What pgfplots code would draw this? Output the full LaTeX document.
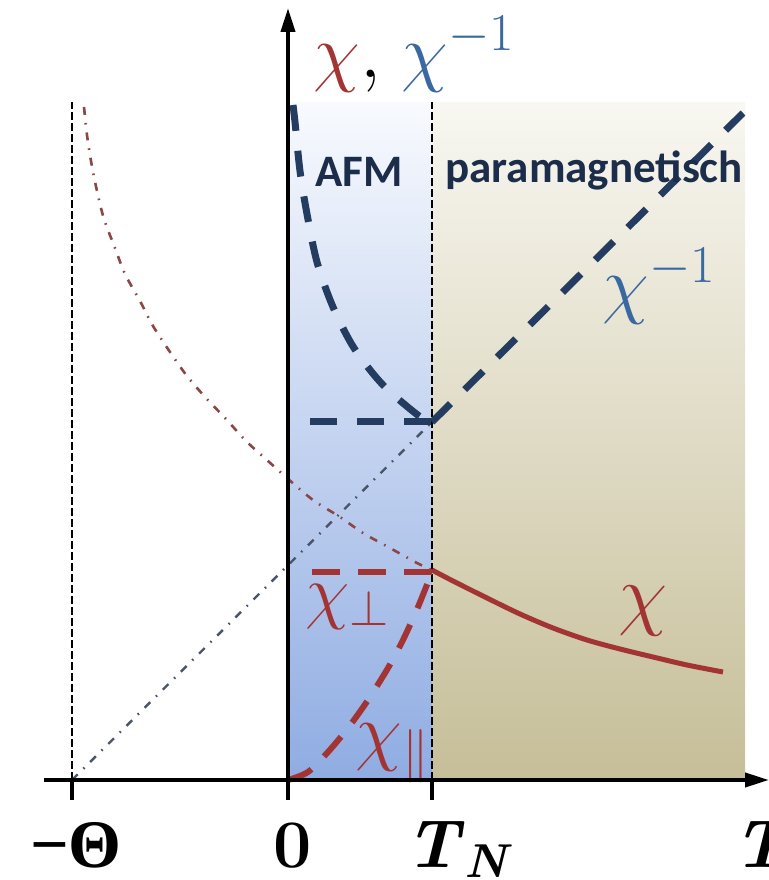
\RequirePackage{fix-cm}
\documentclass[border=0pt]{standalone}
\usepackage{fontspec}
\usepackage{amsmath}
\usepackage{pgfplots}
\pgfplotsset{compat=1.18}
\usetikzlibrary{arrows.meta}
\newfontfamily\calibri{Carlito}
\newfontfamily\lserif{Liberation Serif}
\definecolor{navy}{RGB}{35,60,95}
\definecolor{chired}{RGB}{163,52,52}
\definecolor{dotred}{RGB}{140,70,70}
\definecolor{dotgray}{RGB}{75,85,105}
\definecolor{labblue}{RGB}{58,104,160}
\definecolor{txtnavy}{RGB}{27,45,74}
\definecolor{bluetop}{RGB}{248,250,254}
\definecolor{bluebot}{RGB}{143,172,226}
\definecolor{tantop}{RGB}{248,247,241}
\definecolor{tanbot}{RGB}{198,190,152}
\begin{document}
\begin{tikzpicture}
\useasboundingbox (0,0) rectangle (384.5pt,440pt);
\begin{axis}[
  at={(22pt,50pt)}, anchor=south west,
  x=0.5pt, y=0.5pt,
  xmin=-244, xmax=481, ymin=0, ymax=772,
  enlargelimits=false,
  axis lines=middle, axis on top, clip=false,
  axis line style={line width=2pt},
  x axis line style={-{Triangle[length=12pt,width=7pt]}},
  y axis line style={-{Triangle[length=12pt,width=7pt]}},
  xtick={-216,0,144}, xticklabels={,,}, ytick=\empty,
  hide obscured x ticks=false,
  tick align=outside, major tick length=10pt,
  xtick style={line width=2pt, black},
]
% backgrounds
\addplot[draw=none, top color=bluetop, bottom color=bluebot] coordinates {(0,0) (0,677) (144,677) (144,0)};
\addplot[draw=none, top color=tantop, bottom color=tanbot] coordinates {(144,0) (144,677) (457,677) (457,0)};
% vertical dashed guides
\addplot[black, line width=1.2pt, dash pattern=on 4pt off 1.5pt] coordinates {(-216,0) (-216,678)};
\addplot[black, line width=1.2pt, dash pattern=on 4pt off 1.5pt] coordinates {(144,0) (144,678)};
% Curie-Weiss extrapolation (dash-dot)
\addplot[dotgray, line width=1.2pt, dash pattern=on 4pt off 4pt on 0.8pt off 4pt] coordinates {(-216,0) (144,358)};
\addplot[dotred, line width=1.3pt, smooth, dash pattern=on 4pt off 4pt on 0.8pt off 4pt] coordinates {
(-204,673) (-201,645) (-197,619) (-191,589) (-184,561) (-173,532) (-163,506) (-148,479) (-135,454) (-118,428) (-101,404) (-82,382) (-62,361) (-42,339) (-20,319) (-1,302) (25,280) (52,263) (75,247) (102,232) (129,217) (144,210)};
% chi paramagnetic (solid)
\addplot[chired, line width=2.5pt, smooth] coordinates {
(144,210) (165,199) (199,182) (232,166) (265,152) (299,140) (332,131) (365,123) (399,115) (435,108)};
% chi perp and chi parallel
\addplot[chired, line width=3pt, dash pattern=on 14pt off 9pt] coordinates {(24,208) (144,208)};
\addplot[chired, line width=3pt, smooth, dash pattern=on 13pt off 9pt] coordinates {
(0,0) (20,8) (40,28) (60,52) (80,80) (100,112) (115,140) (130,173) (144,208)};
% chi inverse
\addplot[navy, line width=3.5pt, smooth, dash pattern=on 13pt off 10pt] coordinates {
(5,675) (7,658) (12,609) (19,566) (29,518) (45,473) (66,432) (95,395) (131,364) (144,358)};
\addplot[navy, line width=3.5pt, dash pattern=on 13.5pt off 10pt] coordinates {(22,358) (144,358)};
\addplot[navy, line width=3.5pt, dash pattern=on 13pt off 10pt] coordinates {(144,358) (455,667)};
% labels
\node[anchor=base west, inner sep=0pt] at (axis cs:25,702) {\fontsize{38}{40}\selectfont\textcolor{chired}{$\chi$}$,\;$\textcolor{labblue}{$\chi^{-1}$}};
\node[anchor=base west, inner sep=0pt, text=txtnavy] at (axis cs:27,593) {\calibri\bfseries\fontsize{22.5}{24}\selectfont AFM};
\node[anchor=base west, inner sep=0pt, text=txtnavy] at (axis cs:157,597) {\calibri\bfseries\fontsize{22.5}{24}\selectfont paramagnetisch};
\node[anchor=base west, inner sep=0pt, text=labblue] at (axis cs:314,470) {\fontsize{38}{40}\selectfont$\chi^{-1}$};
\node[anchor=base west, inner sep=0pt, text=chired] at (axis cs:330,160) {\fontsize{40}{42}\selectfont$\chi$};
\node[anchor=base west, inner sep=0pt, text=chired] at (axis cs:17,165) {\fontsize{36}{38}\selectfont$\chi_\perp$};
\node[anchor=base west, inner sep=0pt, text=chired] at (axis cs:67,24) {\fontsize{38}{40}\selectfont$\chi_\parallel$};
\node[anchor=base, inner sep=0pt] at (axis cs:-212,-87) {\lserif\bfseries\fontsize{34}{36}\selectfont −Θ};
\node[anchor=base west, inner sep=0pt] at (axis cs:-15,-87) {\fontsize{34}{36}\selectfont\bfseries 0};
\node[anchor=base west, inner sep=0pt] at (axis cs:117,-87) {\fontsize{34}{36}\selectfont$\textbf{\textit{T}}_{\textbf{\textit{N}}}$};
\node[anchor=base west, inner sep=0pt] at (axis cs:445,-87) {\fontsize{34}{36}\selectfont\bfseries\itshape T};
\end{axis}
\end{tikzpicture}
\end{document}
